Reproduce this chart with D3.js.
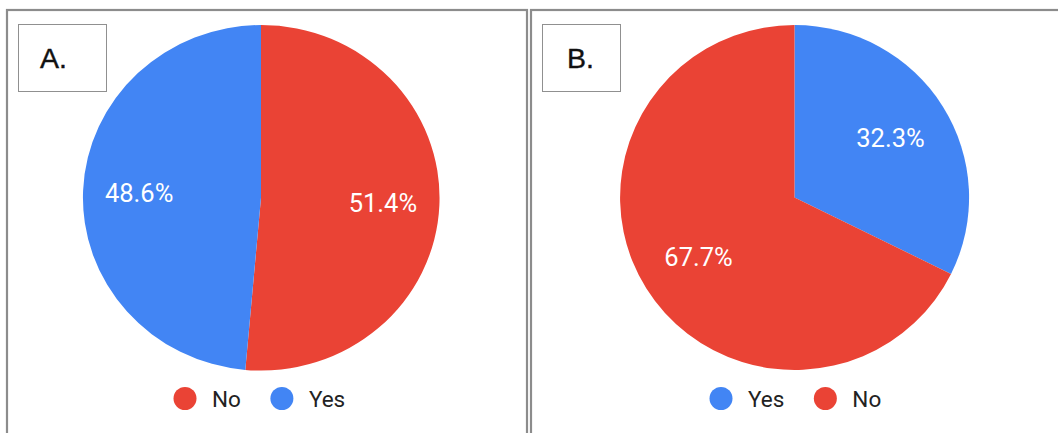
<!DOCTYPE html>
<html>
<head>
<meta charset="utf-8">
<script src="https://cdn.jsdelivr.net/npm/d3@7"></script>
<style>
  html, body { margin: 0; padding: 0; background: #fff; }
  svg { display: block; }
</style>
</head>
<body>
<svg id="chart" width="1058" height="433"></svg>
<script>
// ---- data ----
const panelTitles = ["A.", "B."];
const categoriesA = ["No", "Yes"];
const valuesA = [51.4, 48.6];
const categoriesB = ["Yes", "No"];
const valuesB = [32.3, 67.7];

const colorOf = { "No": "#EA4335", "Yes": "#4285F4" };

const svg = d3.select("#chart");

const panels = [
  { x: 7, y: 10, w: 520, h: 440, title: panelTitles[0], cats: categoriesA, vals: valuesA,
    cx: 261, cy: 197.8, rx: 178.3, ry: 172.8, labelR: 122,
    box: { x: 18.5, y: 24.5, w: 88, h: 67 }, titleX: 40, titleY: 68,
    legendX: 185 },
  { x: 531, y: 10, w: 540, h: 440, title: panelTitles[1], cats: categoriesB, vals: valuesB,
    cx: 794.5, cy: 197.5, rx: 174.5, ry: 172.5, labelR: 113,
    box: { x: 542.5, y: 24.5, w: 78, h: 67 }, titleX: 567, titleY: 68,
    legendX: 721 }
];

panels.forEach(p => {
  svg.append("rect")
    .attr("x", p.x).attr("y", p.y).attr("width", p.w).attr("height", p.h)
    .attr("fill", "#fff").attr("stroke", "#8c8c8c").attr("stroke-width", 2.2);

  const total = d3.sum(p.vals);
  const data = p.cats.map((c, i) => ({ cat: c, val: p.vals[i] }));
  const pie = d3.pie().sort(null).value(d => d.val);
  const arcs = pie(data);

  const arcGen = d3.arc().innerRadius(0).outerRadius(1);
  const g = svg.append("g").attr("transform", `translate(${p.cx},${p.cy})`);
  g.append("g").attr("transform", `scale(${p.rx},${p.ry})`)
    .selectAll("path").data(arcs).join("path")
    .attr("d", arcGen)
    .attr("fill", d => colorOf[d.data.cat]);

  g.selectAll("text.pct").data(arcs).join("text")
    .attr("class", "pct")
    .attr("transform", d => {
      const a = (d.startAngle + d.endAngle) / 2;
      return `translate(${Math.sin(a) * p.labelR},${-Math.cos(a) * p.labelR})`;
    })
    .attr("text-anchor", "middle")
    .attr("dy", "0.36em")
    .attr("font-family", "Roboto, sans-serif")
    .attr("font-size", 25.5)
    .attr("fill", "#fff")
    .text(d => d3.format(".1f")(d.data.val / total * 100) + "%");

  svg.append("rect")
    .attr("x", p.box.x).attr("y", p.box.y).attr("width", p.box.w).attr("height", p.box.h)
    .attr("fill", "#fff").attr("stroke", "#909090").attr("stroke-width", 1);
  svg.append("text")
    .attr("x", p.titleX).attr("y", p.titleY)
    .attr("font-family", "Liberation Sans, Arial, sans-serif")
    .attr("font-size", 28.5)
    .attr("fill", "#111")
    .attr("stroke", "#111").attr("stroke-width", 0.4)
    .text(p.title);

  const lg = svg.append("g").attr("transform", `translate(${p.legendX},398.5)`);
  let x = 0;
  p.cats.forEach((c, i) => {
    const item = lg.append("g").attr("transform", `translate(${x},0)`);
    item.append("circle").attr("r", 11.5).attr("fill", colorOf[c]);
    const t = item.append("text")
      .attr("x", 27).attr("dy", "0.36em")
      .attr("font-family", "Roboto, sans-serif")
      .attr("font-size", 22.5)
      .attr("fill", "#222")
      .text(c);
    const w = t.node().getComputedTextLength();
    x += 27 + w + 41;
  });
});
</script>
</body>
</html>
